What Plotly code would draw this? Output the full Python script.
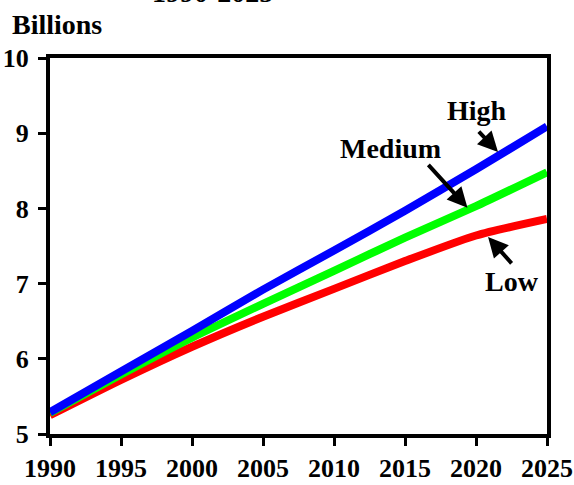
import plotly.graph_objects as go

# World population projections, 1990-2025 (billions)
years = [1990, 1995, 2000, 2005, 2010, 2015, 2020, 2025]
high = [5.29, 5.83, 6.37, 6.92, 7.44, 7.97, 8.52, 9.09]
medium = [5.28, 5.79, 6.28, 6.73, 7.17, 7.61, 8.03, 8.48]
low = [5.25, 5.72, 6.16, 6.56, 6.93, 7.30, 7.64, 7.86]

x_ticks = [1990, 1995, 2000, 2005, 2010, 2015, 2020, 2025]
y_ticks = [5, 6, 7, 8, 9, 10]

FONT = "Liberation Serif"

fig = go.Figure()
for name, vals, color in [("Low", low, "#ff0000"),
                          ("Medium", medium, "#00ff00"),
                          ("High", high, "#0000ff")]:
    fig.add_trace(go.Scatter(
        x=years, y=vals, mode="lines", name=name,
        line=dict(color=color, width=8, shape="spline", smoothing=0.6),
        showlegend=False,
    ))

axis_common = dict(
    showline=True, linecolor="black", linewidth=4, mirror=True,
    showgrid=False, zeroline=False, automargin=False,
    ticks="outside", ticklen=8, tickwidth=3, tickcolor="black",
    tickfont=dict(family=FONT, size=26, color="black"),
)

fig.update_xaxes(range=[1990, 2025], tickvals=x_ticks,
                 ticktext=[f"<b>{v}</b>" for v in x_ticks],
                 ticklabelstandoff=0, **axis_common)
fig.update_yaxes(range=[5, 10], tickvals=y_ticks,
                 ticktext=[f"<b>{v}</b>" for v in y_ticks],
                 ticklabelstandoff=4, **axis_common)

label_font = dict(family=FONT, size=28, color="black")

# Series labels
for txt, lx, ly in [("High", 2020.1, 9.30), ("Medium", 2014.0, 8.80), ("Low", 2022.5, 7.03)]:
    fig.add_annotation(x=lx, y=ly, text=f"<b>{txt}</b>", showarrow=False, font=label_font,
                       xanchor="center", yanchor="middle")

# Pointer arrows from labels to lines
for hx, hy, tx, ty in [(2021.55, 8.75, 2020.1, 9.04),
                       (2019.4, 8.01, 2016.55, 8.60),
                       (2020.85, 7.62, 2022.6, 7.25)]:
    fig.add_annotation(x=hx, y=hy, ax=tx, ay=ty, xref="x", yref="y",
                       axref="x", ayref="y", text="", showarrow=True,
                       arrowhead=2, arrowsize=1.0, arrowwidth=4,
                       arrowcolor="black")

# Unit label and (partially visible) period heading
fig.add_annotation(xref="paper", yref="paper", x=-0.08, y=1.09,
                   text="<b>Billions</b>", showarrow=False,
                   font=dict(family=FONT, size=28, color="black"),
                   xanchor="left", yanchor="middle")
fig.add_annotation(xref="paper", yref="paper", x=0.326, y=1.127,
                   text="<b>1990-2025</b>", showarrow=False,
                   font=dict(family=FONT, size=28, color="black"),
                   xanchor="center", yanchor="bottom")

fig.update_layout(
    width=574, height=485,
    margin=dict(l=50, r=27, t=58, b=51, autoexpand=False),
    paper_bgcolor="white", plot_bgcolor="white",
    font=dict(family=FONT, color="black"),
)

fig.write_html("out.html")
